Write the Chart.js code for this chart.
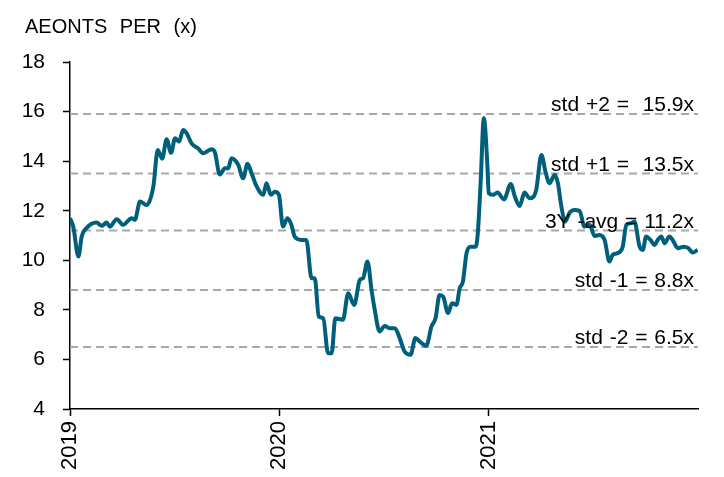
<!DOCTYPE html>
<html>
<head>
<meta charset="utf-8">
<script src="https://cdn.jsdelivr.net/npm/chart.js@4.4.1/dist/chart.umd.min.js"></script>
<style>
  html, body { margin: 0; padding: 0; background: #fff; }
</style>
</head>
<body>
<canvas id="chPer" width="724" height="477"></canvas>
<script>
// PER histórico (x) — semanas desde ene-2019
const semanas = [
  0, 0.8, 2.1, 2.9, 4.1, 6.6, 7.9, 9.1, 9.9, 11.6,
  13.2, 15.3, 16.1, 17.4, 19.0, 20.7, 21.8, 22.9, 24.0, 25.1,
  26.1, 27.1, 28.1, 29.0, 30.2, 31.8, 33.1, 35.2, 36.0, 37.2,
  38.5, 39.3, 40.1, 41.8, 43.0, 44.1, 45.1, 46.3, 48.0, 48.8,
  49.9, 50.9, 51.9, 52.9, 54.0, 55.0, 55.8, 57.5, 58.7, 60.0,
  60.8, 61.8, 62.9, 64.1, 65.0, 65.9, 67.8, 69.1, 70.6, 72.0,
  72.8, 73.9, 74.9, 75.7, 76.9, 78.2, 79.4, 80.7, 81.9, 83.1,
  84.6, 85.8, 86.9, 88.5, 89.8, 90.8, 91.8, 92.7, 93.9, 94.9,
  96.0, 96.8, 97.6, 98.5, 99.5, 100.8, 101.3, 102.0, 102.8, 103.7,
  104.0, 105.1, 106.2, 107.8, 109.5, 110.5, 111.7, 112.9, 114.2, 115.8,
  117.1, 118.1, 119.1, 120.4, 121.2, 122.0, 123.0, 124.1, 125.3, 126.6,
  127.8, 129.1, 130.3, 131.5, 132.8, 134.0, 134.8, 136.1, 137.3, 138.2,
  139.4, 140.2, 141.5, 142.3, 143.1, 144.2, 145.2, 146.0, 146.9, 147.7,
  148.9, 149.7, 151.0, 152.5, 153.6, 154.7, 155.9
];
const per = [
  11.7, 11.36, 10.15, 10.96, 11.3, 11.52, 11.39, 11.52, 11.36, 11.66,
  11.43, 11.7, 11.63, 12.37, 12.23, 12.97, 14.45, 14.1, 14.88, 14.34,
  14.92, 14.79, 15.26, 15.12, 14.72, 14.52, 14.32, 14.48, 14.35, 13.46,
  13.71, 13.71, 14.12, 13.85, 13.31, 13.89, 13.51, 13.0, 12.64, 13.11,
  12.64, 12.77, 12.64, 11.36, 11.7, 11.43, 10.96, 10.82, 10.82, 9.28,
  9.28, 7.73, 7.66, 6.25, 6.25, 7.66, 7.6, 8.67, 8.2, 9.21,
  9.28, 9.95, 8.81, 8.0, 7.13, 7.35, 7.26, 7.26, 6.86, 6.32,
  6.19, 6.86, 6.72, 6.55, 7.33, 7.66, 8.6, 8.53, 7.87, 8.27,
  8.2, 8.87, 9.14, 10.29, 10.55, 10.55, 11.09, 13.11, 15.73, 13.78,
  12.71, 12.64, 12.73, 12.46, 13.08, 12.57, 12.19, 12.73, 12.5, 12.84,
  14.25, 13.58, 13.11, 13.44, 13.11, 12.23, 11.56, 11.92, 12.03, 11.99,
  11.36, 11.43, 10.98, 11.02, 10.82, 9.95, 10.22, 10.29, 10.55, 11.43,
  11.5, 11.56, 10.55, 10.42, 10.96, 10.82, 10.62, 10.82, 10.96, 10.69,
  10.96, 10.82, 10.49, 10.55, 10.49, 10.31, 10.42
];

// Eje x: años
const yearTicks = [0, 52, 104];
const yearLabels = ['2019', '2020', '2021'];
const X_MAX = 156;

// Bandas: media 3Y y desviaciones
const niveles = [15.9, 13.5, 11.2, 8.8, 6.5];
const nivelesTxt = ['std +2 =  15.9x', 'std +1 =  13.5x', '3Y -avg = 11.2x', 'std -1 = 8.8x', 'std -2 = 6.5x'];

const TITULO = 'AEONTS PER (x)';
const FONT = '"Liberation Sans", Arial, sans-serif';
const COLOR_LINEA = '#005F7B';
const COLOR_BANDA = '#A8A8A8';

// Textos: título y etiquetas de las bandas
const etiquetas = {
  id: 'etiquetas',
  afterDatasetsDraw(chart) {
    const { ctx, chartArea, scales: { y } } = chart;
    ctx.save();
    ctx.fillStyle = '#000';
    ctx.textBaseline = 'alphabetic';
    ctx.font = '21px ' + FONT;
    try { ctx.wordSpacing = '1px'; } catch (_) {}
    ctx.textAlign = 'right';
    niveles.forEach((v, i) => {
      ctx.fillText(nivelesTxt[i], chartArea.right - 4, y.getPixelForValue(v) - 3);
    });
    ctx.font = '20px ' + FONT;
    try { ctx.wordSpacing = '7px'; } catch (_) {}
    ctx.textAlign = 'left';
    ctx.fillText(TITULO, 25, 33);
    ctx.restore();
  }
};

const ejeComun = {
  grid: { drawOnChartArea: false, drawTicks: true, tickLength: 7, tickColor: '#000', tickWidth: 1.5 },
  border: { display: true, color: '#000', width: 1.5 }
};

const bandas = niveles.map((v) => ({
  data: [{ x: 0, y: v }, { x: X_MAX, y: v }],
  borderColor: COLOR_BANDA,
  borderWidth: 2,
  borderDash: [8, 5],
  pointRadius: 0
}));

new Chart(document.getElementById('chPer'), {
  type: 'line',
  data: {
    datasets: [{
      data: semanas.map((x, i) => ({ x, y: per[i] })),
      borderColor: COLOR_LINEA,
      borderWidth: 4,
      pointRadius: 0,
      cubicInterpolationMode: 'monotone'
    }, ...bandas]
  },
  options: {
    responsive: false,
    animation: false,
    devicePixelRatio: 1,
    layout: { padding: { top: 62, right: 26, bottom: 0, left: 0 } },
    plugins: { legend: { display: false }, tooltip: { enabled: false } },
    scales: {
      x: {
        type: 'linear',
        min: 0,
        max: X_MAX,
        afterBuildTicks: (s) => { s.ticks = yearTicks.map((v) => ({ value: v })); },
        afterFit: (s) => { s.height = 68; },
        ticks: {
          autoSkip: false,
          minRotation: 90,
          maxRotation: 90,
          padding: 5,
          color: '#000',
          font: { size: 22, family: FONT },
          callback: (v, i) => yearLabels[i]
        },
        ...ejeComun
      },
      y: {
        min: 4,
        max: 18,
        afterFit: (s) => { s.width = 70; },
        ticks: {
          stepSize: 2,
          padding: 18,
          color: '#000',
          font: { size: 21, family: FONT }
        },
        ...ejeComun
      }
    }
  },
  plugins: [etiquetas]
});
</script>
</body>
</html>
